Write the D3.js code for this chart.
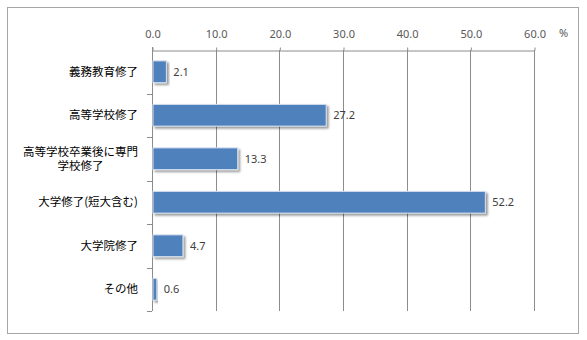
<!DOCTYPE html>
<html>
<head>
<meta charset="utf-8">
<script src="https://cdn.jsdelivr.net/npm/d3@7"></script>
<style>
  html, body { margin: 0; padding: 0; background: #fff; }
  svg { display: block; }
</style>
</head>
<body>
<script>
// Final education level (%)
const categories = [
  ["義務教育修了"],
  ["高等学校修了"],
  ["高等学校卒業後に専門", "学校修了"],
  ["大学修了(短大含む)"],
  ["大学院修了"],
  ["その他"]
];
const values = [2.1, 27.2, 13.3, 52.2, 4.7, 0.6];
const tickValues = [0, 10, 20, 30, 40, 50, 60];
const unitLabel = "%";

const W = 587, H = 340;
const plot = { left: 152, right: 534, top: 50, bottom: 311 };
const numFont = "'Noto Sans', 'DejaVu Sans', sans-serif";

const svg = d3.select("body").append("svg")
  .attr("width", W).attr("height", H);

// drop shadow for bars
const defs = svg.append("defs");
const f = defs.append("filter").attr("id", "shadow")
  .attr("x", "-10%").attr("y", "-20%").attr("width", "130%").attr("height", "160%");
f.append("feGaussianBlur").attr("in", "SourceAlpha").attr("stdDeviation", 1.2).attr("result", "b");
f.append("feOffset").attr("in", "b").attr("dx", 1.5).attr("dy", 2).attr("result", "o");
f.append("feComponentTransfer").attr("in", "o").attr("result", "s")
  .append("feFuncA").attr("type", "linear").attr("slope", 0.4);
const m = f.append("feMerge");
m.append("feMergeNode").attr("in", "s");
m.append("feMergeNode").attr("in", "SourceGraphic");

// outer frame
svg.append("rect")
  .attr("x", 7.5).attr("y", 7.5).attr("width", 571).attr("height", 326)
  .attr("fill", "#fff").attr("stroke", "#a6a6a6").attr("stroke-width", 1);

const x = d3.scaleLinear().domain([0, 60]).range([plot.left, plot.right]);
const y = d3.scaleBand().domain(d3.range(categories.length))
  .range([plot.top, plot.bottom]).paddingInner(0.5).paddingOuter(0.25);

// vertical gridlines
svg.append("g").selectAll("line").data(tickValues.slice(1)).join("line")
  .attr("x1", d => Math.round(x(d)) + 0.5).attr("x2", d => Math.round(x(d)) + 0.5)
  .attr("y1", plot.top).attr("y2", plot.bottom)
  .attr("stroke", "#8c8c8c").attr("stroke-width", 1);

// top axis
const xAxis = d3.axisTop(x).tickValues(tickValues).tickFormat(d3.format(".1f"))
  .tickSizeInner(3).tickSizeOuter(0).tickPadding(10);
const gx = svg.append("g").attr("transform", `translate(0.5,${plot.top + 0.5})`).call(xAxis);
gx.select(".domain").attr("stroke", "#8c8c8c");
gx.selectAll(".tick line").attr("stroke", "#8c8c8c");
gx.selectAll(".tick text")
  .attr("font-family", numFont)
  .attr("font-size", 11).attr("fill", "#595959");

svg.append("text").attr("x", 559).attr("y", 37)
  .attr("font-family", numFont)
  .attr("font-size", 11).attr("fill", "#595959").text(unitLabel);

// left axis with ticks at category boundaries
const yEdge = d3.scaleLinear().domain([0, categories.length]).range([plot.top, plot.bottom]);
const gy = svg.append("g");
gy.append("line")
  .attr("x1", plot.left + 0.5).attr("x2", plot.left + 0.5)
  .attr("y1", plot.top - 3).attr("y2", plot.bottom)
  .attr("stroke", "#8c8c8c");
gy.selectAll("line.t").data(d3.range(1, categories.length + 1)).join("line")
  .attr("class", "t")
  .attr("x1", plot.left - 5).attr("x2", plot.left)
  .attr("y1", d => Math.round(yEdge(d)) + 0.5).attr("y2", d => Math.round(yEdge(d)) + 0.5)
  .attr("stroke", "#8c8c8c");

// bars
svg.append("g").selectAll("rect").data(values).join("rect")
  .attr("x", x(0) + 1)
  .attr("y", (d, i) => y(i))
  .attr("width", d => x(d) - x(0))
  .attr("height", y.bandwidth())
  .attr("fill", "#4f81bd")
  .attr("stroke", "#d6e0ee").attr("stroke-width", 1)
  .attr("filter", "url(#shadow)");

// value labels
svg.append("g").selectAll("text").data(values).join("text")
  .attr("x", d => x(d) + 8)
  .attr("y", (d, i) => y(i) + y.bandwidth() / 2)
  .attr("dy", "0.36em")
  .attr("font-family", numFont)
  .attr("font-size", 11).attr("fill", "#404040")
  .text(d => d.toFixed(1));

// category labels
const labelX = 138;
const fs = 11.5;
const lg = svg.append("g").selectAll("text").data(categories).join("text")
  .attr("font-family", "'Noto Sans CJK JP', sans-serif")
  .attr("font-size", fs).attr("fill", "#000")
  .attr("text-anchor", d => d.length > 1 ? "middle" : "end")
  .attr("y", (d, i) => y(i) + y.bandwidth() / 2);
lg.each(function (lines) {
  const t = d3.select(this);
  const n = lines.length;
  const lh = 14;
  let cx = labelX;
  if (n > 1) {
    // center the block against its right edge
    const widths = lines.map(s => s.length * fs);
    cx = labelX - d3.max(widths) / 2;
  }
  lines.forEach((s, k) => {
    t.append("tspan").attr("x", cx)
      .attr("dy", k === 0 ? `${(-(n - 1) * lh / 2) + 4}` : lh)
      .text(s);
  });
});
</script>
</body>
</html>
